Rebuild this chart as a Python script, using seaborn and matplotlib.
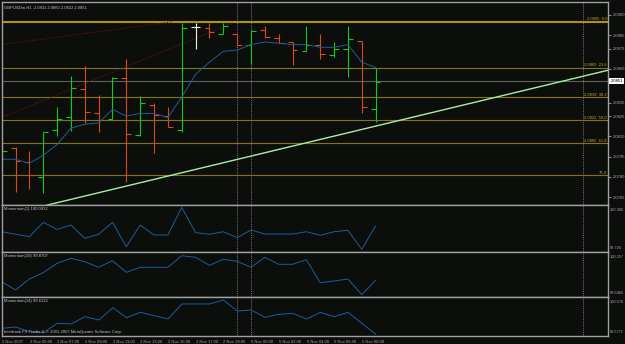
import numpy as np
import pandas as pd
import matplotlib
matplotlib.use("Agg")
import matplotlib.pyplot as plt
import matplotlib.transforms as mtransforms
import seaborn as sns

# GBPUSDm H1 bars, 2 Nov 2007 03:00 -> 5 Nov 2007 09:00
opens = [2.0796, 2.0801, 2.0791, 2.0780, 2.0815, 2.0824, 2.0845, 2.0827, 2.0823, 2.0853,
         2.0811, 2.0833, 2.0825, 2.0815, 2.0891, 2.0890, 2.0886, 2.0886, 2.0878, 2.0889,
         2.0883, 2.0880, 2.0873, 2.0878, 2.0870, 2.0875, 2.0881, 2.0830]
highs = [2.0807, 2.0802, 2.0799, 2.0813, 2.0832, 2.0855, 2.0862, 2.0841, 2.0854, 2.0867,
         2.0840, 2.0835, 2.0832, 2.0894, 2.0894, 2.0894, 2.0894, 2.0886, 2.0889, 2.0892,
         2.0886, 2.0880, 2.0892, 2.0886, 2.0880, 2.0892, 2.0881, 2.0861]
lows = [2.0795, 2.0769, 2.0771, 2.0768, 2.0810, 2.0814, 2.0820, 2.0813, 2.0823, 2.0776,
        2.0810, 2.0798, 2.0817, 2.0813, 2.0875, 2.0883, 2.0886, 2.0878, 2.0864, 2.0883,
        2.0879, 2.0863, 2.0873, 2.0867, 2.0869, 2.0854, 2.0827, 2.0821]
closes = [2.0799, 2.0792, 2.0781, 2.0813, 2.0823, 2.0846, 2.0828, 2.0822, 2.0853, 2.0812,
          2.0835, 2.0826, 2.0817, 2.0890, 2.0891, 2.0887, 2.0892, 2.0878, 2.0888, 2.0884,
          2.0879, 2.0874, 2.0878, 2.0871, 2.0875, 2.0882, 2.0832, 2.0850]
ma = [2.0793, 2.0793, 2.0790, 2.0796, 2.0804, 2.0816, 2.0819, 2.0820, 2.0830, 2.0825,
      2.0827, 2.0827, 2.0824, 2.0839, 2.0856, 2.0865, 2.0873, 2.0874, 2.0878, 2.0880,
      2.0879, 2.0878, 2.0878, 2.0876, 2.0876, 2.0878, 2.0865, 2.0861]

mom1 = [100.000, 99.960, 99.922, 100.146, 100.037, 100.104, 99.897, 99.960, 100.146, 99.767,
        100.104, 99.949, 99.949, 100.380, 99.985, 99.960, 100.000, 99.907, 100.027, 99.964,
        99.964, 99.964, 100.000, 99.944, 100.000, 100.022, 99.726, 100.091]
mom10 = [99.851, 99.722, 99.893, 99.992, 100.138, 100.216, 100.163, 100.076, 100.179, 99.998,
         100.076, 100.076, 100.076, 100.257, 100.232, 100.107, 100.201, 100.170, 100.076, 100.232,
         100.123, 100.123, 100.195, 99.836, 99.862, 99.893, 99.648, 99.871]
mom14 = [99.781, 99.817, 99.685, 99.657, 99.921, 99.902, 100.107, 100.014, 100.360, 100.079,
         100.230, 100.135, 100.042, 100.464, 100.464, 100.464, 100.576, 100.267, 100.295, 100.090,
         100.174, 100.202, 100.042, 100.230, 100.107, 100.230, 99.921, 99.612]

time_labels = ["2 Nov 2007", "2 Nov 05:00", "2 Nov 07:00", "2 Nov 09:00", "2 Nov 11:00",
               "2 Nov 13:00", "2 Nov 15:00", "2 Nov 17:00", "2 Nov 19:00", "5 Nov 00:00",
               "5 Nov 02:00", "5 Nov 04:00", "5 Nov 06:00", "5 Nov 08:00"]

fib_prices = [2.0895, 2.0861, 2.0839, 2.0822, 2.0805, 2.0781]
fib_labels = ["2.0895  0.0", "2.0860  23.6", "2.0839  38.2", "2.0822  50.0", "2.0805  61.8", "76.4"]
price_ticks = [2.0900, 2.0885, 2.0875, 2.0860, 2.0835, 2.0825, 2.0810, 2.0795, 2.0780, 2.0765]
last_price = 2.0851

# trendlines as (bar, price) pairs
red_line1 = ([0.0, 12.37], [2.0878, 2.0895])
red_line2 = ([0.0, 16.70], [2.0824, 2.0894])
green_line = ([3.27, 43.78], [2.0759, 2.0859])
separators = [17, 18, 42]

BG = "#0c0e0c"
sns.set_theme(style="dark", rc={"axes.facecolor": BG, "figure.facecolor": BG,
                                "axes.grid": False, "axes.edgecolor": "#a0a0a0"})
plt.rcParams["font.family"] = ["Liberation Sans", "DejaVu Sans"]
FS = 3.0
TXT = "#c4c4c4"
BLUE = "#1d5c9c"

fig = plt.figure(figsize=(6.25, 3.44), dpi=100)


def px_axes(x0, y0, x1, y1):
    return fig.add_axes([x0 / 625, 1 - y1 / 344, (x1 - x0) / 625, (y1 - y0) / 344])


ax = px_axes(2, 2, 608, 205)
p1 = px_axes(2, 205, 608, 252)
p10 = px_axes(2, 252, 608, 297)
p14 = px_axes(2, 297, 608, 336)

bars = np.arange(len(opens))
df = pd.DataFrame({"bar": bars, "open": opens, "high": highs, "low": lows,
                   "close": closes, "ma": ma, "m1": mom1, "m10": mom10, "m14": mom14})

for a in (ax, p1, p10, p14):
    a.set_xlim(0.022, 43.78)
    for s in a.spines.values():
        s.set_color("#a0a0a0")
        s.set_linewidth(1.0)
    for x in separators:
        a.axvline(x, color="#8c8c8c", lw=0.6, ls=(0, (1, 1.2)))

# fibo levels and price line
for i, p in enumerate(fib_prices):
    ax.axhline(p, color="#b0940e" if i == 0 else "#857418", lw=1.5 if i == 0 else 0.8)
    ax.text(43.7, p + 0.00004, fib_labels[i], color="#c8a818", fontsize=FS, ha="right", va="bottom")
ax.axhline(last_price, color="#606060", lw=0.8)

ax.plot(*red_line1, color="#701414", lw=0.8, ls=(0, (1, 1.5)))
ax.plot(*red_line2, color="#701414", lw=0.8, ls=(0, (1, 1.5)))
ax.plot(*green_line, color="#a8f0a0", lw=1.0)

# OHLC bars
up = df[df.close > df.open]
dn = df[df.close < df.open]
eq = df[df.close == df.open]
for part, col in ((up, "#14cc14"), (dn, "#dc4a1c"), (eq, "#f0f0f0")):
    ax.vlines(part.bar, part.low, part.high, color=col, lw=0.8)
    ax.hlines(part.open, part.bar - 0.35, part.bar, color=col, lw=0.8)
    ax.hlines(part.close, part.bar, part.bar + 0.35, color=col, lw=0.8)

sns.lineplot(data=df, x="bar", y="ma", ax=ax, color=BLUE, lw=0.7)
ax.set_ylim(2.07591, 2.09096)

ax.yaxis.tick_right()
ax.set_yticks(price_ticks)
ax.set_yticklabels([f"{v:.4f}" for v in price_ticks])
ax.tick_params(axis="y", colors="#a8a8a8", labelsize=FS, length=2, width=0.6, pad=1.5)
ax.set_xticks([])
ax.set_xlabel("")
ax.set_ylabel("")
tr = mtransforms.blended_transform_factory(ax.transAxes, ax.transData)
ax.text(1.004, last_price, f"{last_price:.4f}", transform=tr, fontsize=FS, color="black",
        va="center", ha="left", bbox=dict(boxstyle="square,pad=0.25", fc="white", ec="none"))
ax.text(0.003, 0.985, "GBPUSDm,H1  2.0831 2.0860 2.0822 2.0851", transform=ax.transAxes,
        fontsize=FS, color=TXT, va="top", ha="left")

# momentum windows
panels = [(p1, "m1", "Momentum(1) 100.0912", (99.684, 100.416), ("100.380", "99.726")),
          (p10, "m10", "Momentum(10) 99.8707", (99.612, 100.315), ("100.257", "99.6482")),
          (p14, "m14", "Momentum(14) 99.6122", (99.564, 100.660), ("100.576", "99.5771"))]
for a, col, title, lims, edge in panels:
    sns.lineplot(data=df, x="bar", y=col, ax=a, color=BLUE, lw=0.7)
    a.set_ylim(*lims)
    a.set_yticks([])
    a.set_ylabel("")
    a.set_xlabel("")
    a.text(0.003, 0.96, title, transform=a.transAxes, fontsize=FS, color=TXT, va="top", ha="left")
    a.text(1.003, 0.93, edge[0], transform=a.transAxes, fontsize=2.8, color="#a8a8a8", va="top", ha="left")
    a.text(1.003, 0.04, edge[1], transform=a.transAxes, fontsize=2.8, color="#a8a8a8", va="bottom", ha="left")

for a in (p1, p10):
    a.set_xticks([])
p14.text(0.003, 0.04, "Interbank FX Trader 4, \u00a9 2001-2007 MetaQuotes Software Corp.",
         transform=p14.transAxes, fontsize=FS, color=TXT, va="bottom", ha="left")
p14.set_xticks(bars[::2])
p14.set_xticklabels(time_labels, ha="left")
p14.tick_params(axis="x", colors="#a8a8a8", labelsize=FS, length=2, width=0.6, pad=1.0)

fig.savefig("out.png", dpi=100, facecolor=BG)
